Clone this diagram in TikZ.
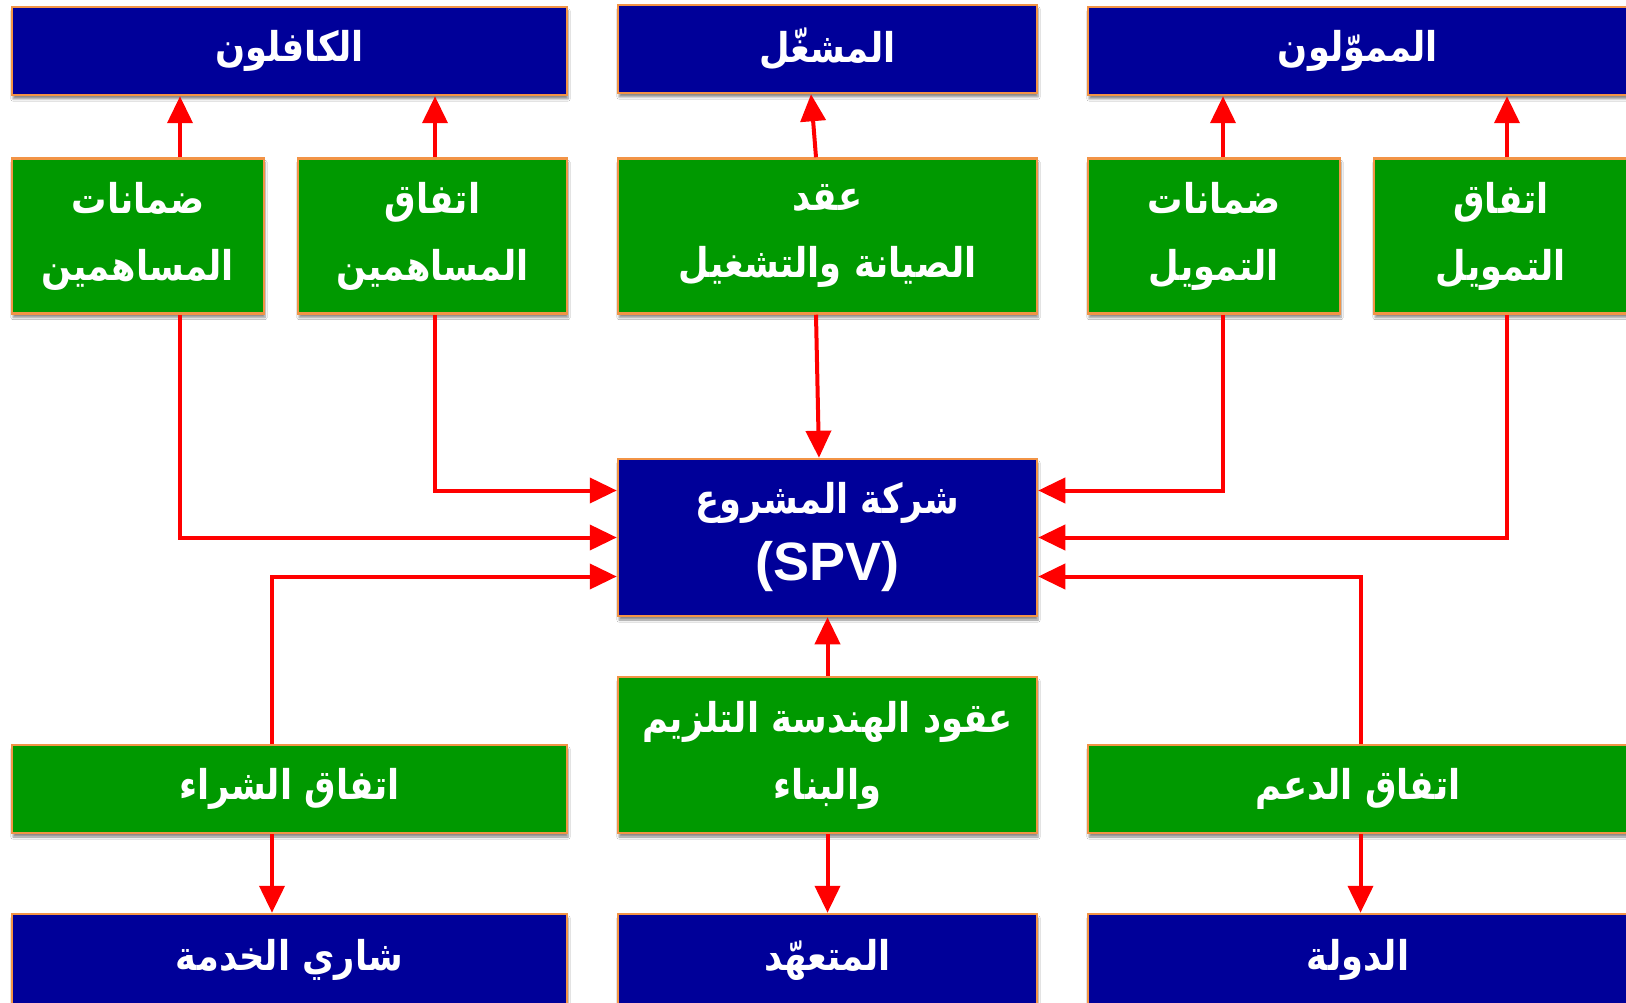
\documentclass[tikz,border=0pt]{standalone}
\usepackage{fontspec}
\setmainfont{Liberation Sans}
\newfontfamily\arabicfont[Script=Arabic,FakeStretch=0.86]{DejaVu Sans}
\TeXXeTstate=1
\usetikzlibrary{arrows.meta,shadows.blur,calc}

\definecolor{navy}{RGB}{0,0,153}
\definecolor{leaf}{RGB}{0,153,0}
\definecolor{rim}{RGB}{242,148,70}
\definecolor{link}{RGB}{255,0,0}

% Arabic text, set right to left
\newcommand\artxt[1]{{\arabicfont\bfseries\beginR #1\endR}}

\tikzset{
  box/.style={draw=rim, line width=2.5pt, inner sep=0pt, text=white, align=center,
    font=\fontsize{41}{67}\selectfont\bfseries,
    blur shadow={shadow xshift=1pt, shadow yshift=-4pt, shadow blur steps=6, shadow opacity=45}},
  party/.style={box, fill=navy},
  deal/.style={box, fill=leaf},
  arr/.style={draw=link, line width=4pt, -{Triangle[width=25pt,length=27pt]}}
}

\begin{document}
\begin{tikzpicture}[x=1pt,y=-1pt]
\fill[white] (0,0) rectangle (1626,1003);
\useasboundingbox (0,0) rectangle (1626,1003);

% parties (top)
\node[party, minimum width=555pt, minimum height=88pt] (kafil) at (289.5,51) {\artxt{الكافلون}};
\node[party, minimum width=419pt, minimum height=88pt] (oper) at (827.5,49) {\artxt{المشغّل}};
\node[party, minimum width=540pt, minimum height=88pt] (fin) at (1358,51) {\artxt{المموّلون}};

% agreements (upper row)
\node[deal, minimum width=252pt, minimum height=155pt] (g1) at (138,236) {\artxt{ضمانات}\\\artxt{المساهمين}};
\node[deal, minimum width=269pt, minimum height=155pt] (g2) at (432.5,236) {\artxt{اتفاق}\\\artxt{المساهمين}};
\node[deal, minimum width=419pt, minimum height=155pt] (g3) at (827.5,236) {\artxt{عقد}\\\artxt{الصيانة والتشغيل}};
\node[deal, minimum width=252pt, minimum height=155pt] (g4) at (1214,236) {\artxt{ضمانات}\\\artxt{التمويل}};
\node[deal, minimum width=254pt, minimum height=155pt] (g5) at (1501,236) {\artxt{اتفاق}\\\artxt{التمويل}};

% project company
\node[party, minimum width=419pt, minimum height=157pt] (spv) at (827.5,537.5)
  {\artxt{شركة المشروع}\\{\fontsize{54}{72}\selectfont\bfseries (SPV)}};

% agreements (lower row)
\node[deal, minimum width=555pt, minimum height=88pt] (buy) at (289.5,789) {\artxt{اتفاق الشراء}};
\node[deal, minimum width=419pt, minimum height=156pt] (epc) at (827.5,755) {\artxt{عقود الهندسة التلزيم}\\\artxt{والبناء}};
\node[deal, minimum width=540pt, minimum height=88pt] (sup) at (1358,789) {\artxt{اتفاق الدعم}};

% parties (bottom)
\node[party, minimum width=555pt, minimum height=92pt] (buyer) at (289.5,960) {\artxt{شاري الخدمة}};
\node[party, minimum width=419pt, minimum height=92pt] (contr) at (827.5,960) {\artxt{المتعهّد}};
\node[party, minimum width=540pt, minimum height=92pt] (state) at (1358,960) {\artxt{الدولة}};

% links upwards to the parties
\draw[arr] ([xshift=42pt]g1.north) -- ([xshift=42pt]g1.north |- kafil.south);
\draw[arr] ([xshift=2.5pt]g2.north) -- ([xshift=2.5pt]g2.north |- kafil.south);
\draw[arr] ([xshift=-11.5pt]g3.north) -- ([xshift=-16.5pt]oper.south);
\draw[arr] ([xshift=9pt]g4.north) -- ([xshift=9pt]g4.north |- fin.south);
\draw[arr] ([xshift=6pt]g5.north) -- ([xshift=6pt]g5.north |- fin.south);

% links into the project company
\draw[arr] ([xshift=42pt]g1.south) |- (spv.west);
\draw[arr] ([xshift=2.5pt]g2.south) |- ([yshift=47pt]spv.west);
\draw[arr] ([xshift=-11.5pt]g3.south) -- ([xshift=-8.5pt]spv.north);
\draw[arr] ([xshift=9pt]g4.south) |- ([yshift=47pt]spv.east);
\draw[arr] ([xshift=6pt]g5.south) |- (spv.east);
\draw[arr] ([xshift=-17.5pt]buy.north) |- ([yshift=-39pt]spv.west);
\draw[arr] (epc.north) -- (spv.south);
\draw[arr] ([xshift=2.5pt]sup.north) |- ([yshift=-39pt]spv.east);

% links down to the parties
\draw[arr] ([xshift=-17.5pt]buy.south) -- ([xshift=-17.5pt]buy.south |- buyer.north);
\draw[arr] (epc.south) -- (contr.north);
\draw[arr] ([xshift=2.5pt]sup.south) -- ([xshift=2.5pt]sup.south |- state.north);
\end{tikzpicture}
\end{document}
